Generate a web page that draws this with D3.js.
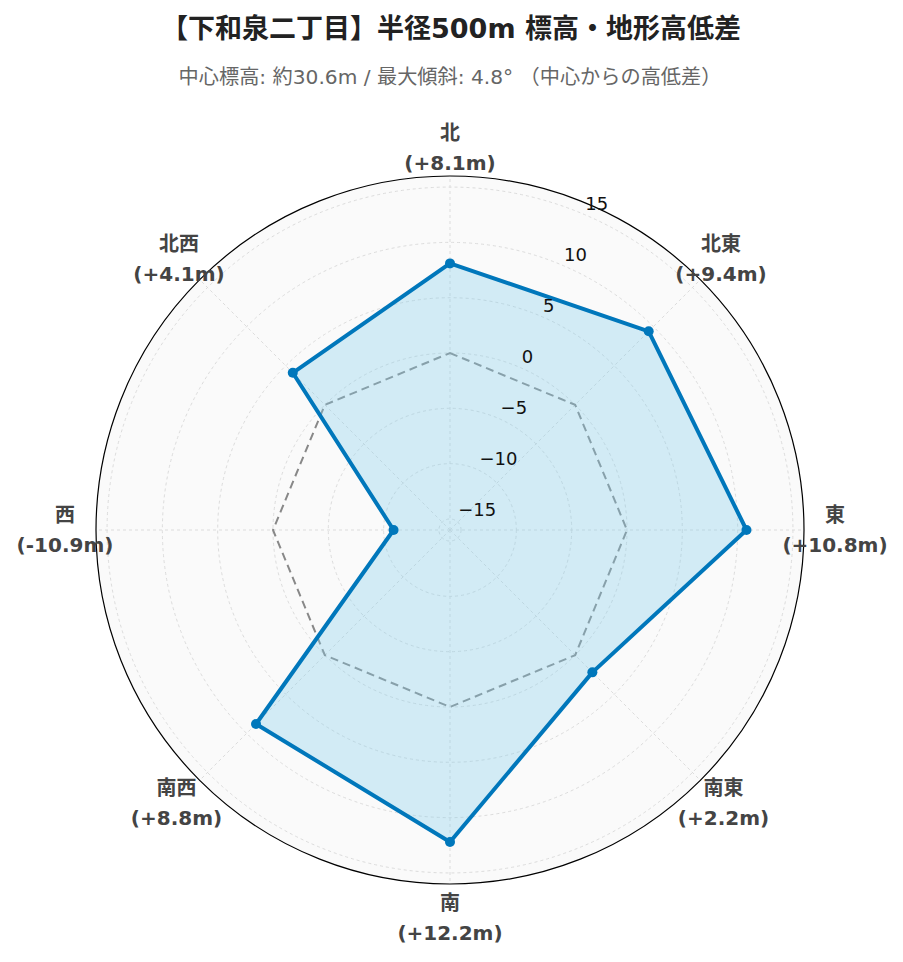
<!DOCTYPE html>
<html><head><meta charset="utf-8">
<script src="https://cdn.jsdelivr.net/npm/d3@7/dist/d3.min.js"></script>
<style>
body{margin:0;background:#fff;}
svg{display:block;font-family:"DejaVu Sans","Noto Sans CJK JP",sans-serif;}
</style></head>
<body><svg id="chart" width="903" height="962"></svg>
<script>
const directions = ["北","北東","東","南東","南","南西","西","北西"];
const elevationDiff = [8.1, 9.4, 10.8, 2.2, 12.2, 8.8, -10.9, 4.1];
const referenceLevel = [0, 0, 0, 0, 0, 0, 0, 0];
const radialTicks = [-15, -10, -5, 0, 5, 10, 15];
const radialRange = [-16, 16];
const titleText = "【下和泉二丁目】半径500m 標高・地形高低差";
const subtitleText = "中心標高: 約30.6m / 最大傾斜: 4.8° （中心からの高低差）";

const svg = d3.select("#chart");
const cx = 450, cy = 530, R = 354;
const r = d3.scaleLinear().domain(radialRange).range([0, R]);
const ang = d3.scalePoint().domain(directions).range([0, 2*Math.PI*7/8]);
const pt = (d, v) => { const a = ang(d), rr = r(v); return [cx + rr*Math.sin(a), cy - rr*Math.cos(a)]; };

svg.append("text").attr("x", 451).attr("y", 28).attr("text-anchor","middle").attr("dominant-baseline","central")
  .attr("font-size", 27).attr("font-weight","bold").attr("fill","#222").text(titleText);
svg.append("text").attr("x", 450).attr("y", 77).attr("text-anchor","middle").attr("dominant-baseline","central")
  .attr("font-size", 20.2).attr("fill","#666").text(subtitleText);

const g = svg.append("g");
g.append("circle").attr("cx",cx).attr("cy",cy).attr("r",R).attr("fill","#fafafa");
g.selectAll(".grid").data(radialTicks).join("circle")
  .attr("cx",cx).attr("cy",cy).attr("r",d=>r(d)).attr("fill","none")
  .attr("stroke","#dcdcdc").attr("stroke-width",1).attr("stroke-dasharray","3,3");
g.selectAll(".spoke").data(directions).join("line")
  .attr("x1",cx).attr("y1",cy)
  .attr("x2",d=>pt(d, radialRange[1])[0]).attr("y2",d=>pt(d, radialRange[1])[1])
  .attr("stroke","#dcdcdc").attr("stroke-width",1).attr("stroke-dasharray","3,3");

const line = d3.lineRadial().angle((d,i)=>ang(directions[i])).radius(d=>r(d)).curve(d3.curveLinearClosed);

g.append("path").attr("transform",`translate(${cx},${cy})`).attr("d", line(referenceLevel))
  .attr("fill","none").attr("stroke","#888").attr("stroke-width",2).attr("stroke-dasharray","8,5");
g.append("path").attr("transform",`translate(${cx},${cy})`).attr("d", line(elevationDiff))
  .attr("fill","rgba(135,206,235,0.35)").attr("stroke","#0077bb").attr("stroke-width",4).attr("stroke-linejoin","round");
g.selectAll(".pt").data(elevationDiff).join("circle")
  .attr("cx",(d,i)=>pt(directions[i],d)[0]).attr("cy",(d,i)=>pt(directions[i],d)[1])
  .attr("r",5).attr("fill","#0077bb");

g.append("circle").attr("cx",cx).attr("cy",cy).attr("r",R).attr("fill","none").attr("stroke","#000").attr("stroke-width",1.2);

const ra = Math.PI/8;
g.selectAll(".rt").data(radialTicks).join("text")
  .attr("x", d => cx + r(d)*Math.sin(ra) + 4)
  .attr("y", d => cy - r(d)*Math.cos(ra) - 10)
  .attr("dominant-baseline","central").attr("font-size",18).attr("fill","#111")
  .text(d => d3.format("d")(d));

const fmt = v => "(" + (v >= 0 ? "+" + v.toFixed(1) : v.toFixed(1)) + "m)";
directions.forEach((d,i) => {
  const a = ang(d);
  const rr = 385 - 2.5*Math.cos(a);
  const x = cx + rr*Math.sin(a), y = cy - rr*Math.cos(a);
  const t = g.append("text").attr("text-anchor","middle").attr("font-size",20).attr("font-weight","bold").attr("fill","#444");
  t.append("tspan").attr("x",x).attr("y",y-15).attr("dominant-baseline","central").text(d);
  t.append("tspan").attr("x",x).attr("y",y+15).attr("dominant-baseline","central").text(fmt(elevationDiff[i]));
});
</script></body></html>
